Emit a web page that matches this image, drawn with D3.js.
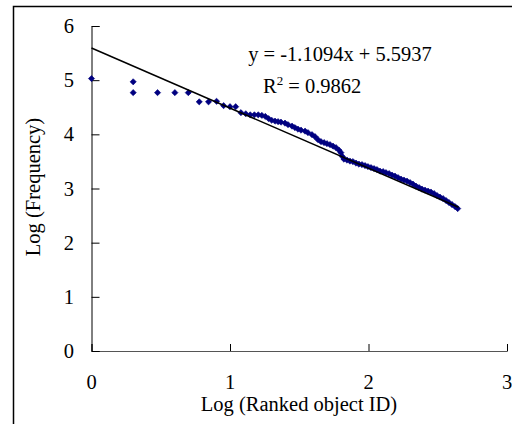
<!DOCTYPE html>
<html><head><meta charset="utf-8">
<script src="https://cdnjs.cloudflare.com/ajax/libs/d3/7.8.5/d3.min.js"></script>
<style>
html,body{margin:0;padding:0;background:#fff;}
svg{display:block;}
text{font-family:"Liberation Serif","Times New Roman",serif;fill:#000;}
</style></head>
<body>
<script>
// ---- data ----
const logRank = [
  0, 0.301, 0.301, 0.477, 0.602, 0.699, 0.778, 0.845, 0.903, 0.954,
  1.000, 1.041, 1.079, 1.114, 1.146, 1.176, 1.204, 1.230, 1.255, 1.279, 1.301,
  1.325, 1.347, 1.368, 1.397, 1.419, 1.448, 1.469, 1.491, 1.513, 1.542,
  1.563, 1.592, 1.614, 1.635, 1.657, 1.679, 1.700, 1.722, 1.744, 1.765,
  1.787, 1.801, 1.812, 1.823, 1.845, 1.866, 1.888, 1.910, 1.931, 1.953,
  1.975, 1.996, 2.018, 2.040, 2.061, 2.083, 2.105, 2.126, 2.148, 2.170,
  2.191, 2.213, 2.235, 2.256, 2.278, 2.300, 2.321, 2.343, 2.365, 2.386,
  2.408, 2.430, 2.451, 2.473, 2.495, 2.516, 2.538, 2.560, 2.581, 2.603,
  2.625, 2.644
];
const logFreq = [
  5.03, 4.97, 4.77, 4.77, 4.77, 4.77, 4.60, 4.60, 4.61, 4.53,
  4.51, 4.51, 4.40, 4.38, 4.36, 4.36, 4.36, 4.35, 4.33, 4.29, 4.26,
  4.244, 4.234, 4.225, 4.207, 4.179, 4.151, 4.124, 4.096, 4.077, 4.059,
  4.031, 3.994, 3.957, 3.902, 3.865, 3.847, 3.828, 3.810, 3.782, 3.755,
  3.708, 3.662, 3.589, 3.542, 3.524, 3.506, 3.496, 3.469, 3.450, 3.441,
  3.423, 3.404, 3.386, 3.367, 3.349, 3.321, 3.312, 3.293, 3.275, 3.247,
  3.229, 3.201, 3.173, 3.155, 3.137, 3.109, 3.081, 3.044, 3.017, 2.989,
  2.970, 2.952, 2.934, 2.906, 2.869, 2.841, 2.814, 2.777, 2.740, 2.703,
  2.666, 2.629
];
const xTicks = [0, 1, 2, 3];
const yTicks = [0, 1, 2, 3, 4, 5, 6];
const slope = -1.1094, intercept = 5.5937;
const trendX = [0, 2.65];
const eqLabel = "y = -1.1094x + 5.5937";
const r2Value = "0.9862";
const xTitle = "Log (Ranked object ID)";
const yTitle = "Log (Frequency)";

// ---- drawing ----
const W = 512, H = 424, FS = 20.5;
const svg = d3.select("body").append("svg").attr("width", W).attr("height", H);
svg.append("rect").attr("width", W).attr("height", H).attr("fill", "#fff");
// outer frame (runs off right/bottom edges)
svg.append("rect").attr("x", 13.5).attr("y", 6.5).attr("width", 520).attr("height", 430)
  .attr("fill", "none").attr("stroke", "#000").attr("stroke-width", 1.5);

const x = d3.scaleLinear().domain([0, 3]).range([91.5, 507]);
const y = d3.scaleLinear().domain([0, 6]).range([351, 26]);

// axes
const xAxis = svg.append("g").attr("transform", `translate(0,${y(0)})`)
  .call(d3.axisBottom(x).tickValues(xTicks).tickSize(-7).tickFormat(""));
const yAxis = svg.append("g").attr("transform", `translate(${x(0)},0)`)
  .call(d3.axisLeft(y).tickValues(yTicks).tickSize(-8).tickFormat(""));
[xAxis, yAxis].forEach(g => {
  g.select(".domain").attr("stroke", "#000").attr("stroke-width", 1);
  g.selectAll(".tick line").attr("stroke", "#000").attr("stroke-width", 1);
});
xAxis.select(".domain").attr("stroke", "#555");

// tick labels
svg.append("g").selectAll("text").data(xTicks).join("text")
  .attr("x", d => x(d)).attr("y", 389).attr("text-anchor", "middle")
  .attr("font-size", FS).text(d => d);
svg.append("g").selectAll("text").data(yTicks).join("text")
  .attr("x", 74).attr("y", d => y(d) + 7).attr("text-anchor", "end")
  .attr("font-size", FS).text(d => d);

// titles
svg.append("text").attr("x", 299).attr("y", 411).attr("text-anchor", "middle")
  .attr("font-size", FS).text(xTitle);
svg.append("text").attr("transform", "translate(40,187) rotate(-90)")
  .attr("text-anchor", "middle").attr("font-size", FS).text(yTitle);

// points
const pts = logRank.map((d, i) => [d, logFreq[i]]);
svg.append("g").selectAll("path").data(pts).join("path")
  .attr("transform", d => `translate(${x(d[0])},${y(d[1])})`)
  .attr("d", "M0,-3.1L3.1,0L0,3.1L-3.1,0Z")
  .attr("fill", "#000080").attr("stroke", "#000080").attr("stroke-width", 0.6);

// trendline
const line = d3.line().x(d => x(d)).y(d => y(slope * d + intercept));
svg.append("path").datum(trendX).attr("d", line)
  .attr("fill", "none").attr("stroke", "#000").attr("stroke-width", 1.5);

// equation
svg.append("text").attr("x", 340).attr("y", 61).attr("text-anchor", "middle")
  .attr("font-size", FS).text(eqLabel);
const r2 = svg.append("text").attr("x", 263).attr("y", 93).attr("font-size", FS);
r2.append("tspan").text("R");
r2.append("tspan").attr("dy", -8).attr("font-size", 13).text("2");
r2.append("tspan").attr("dy", 8).text(" = " + r2Value);
</script>
</body></html>
